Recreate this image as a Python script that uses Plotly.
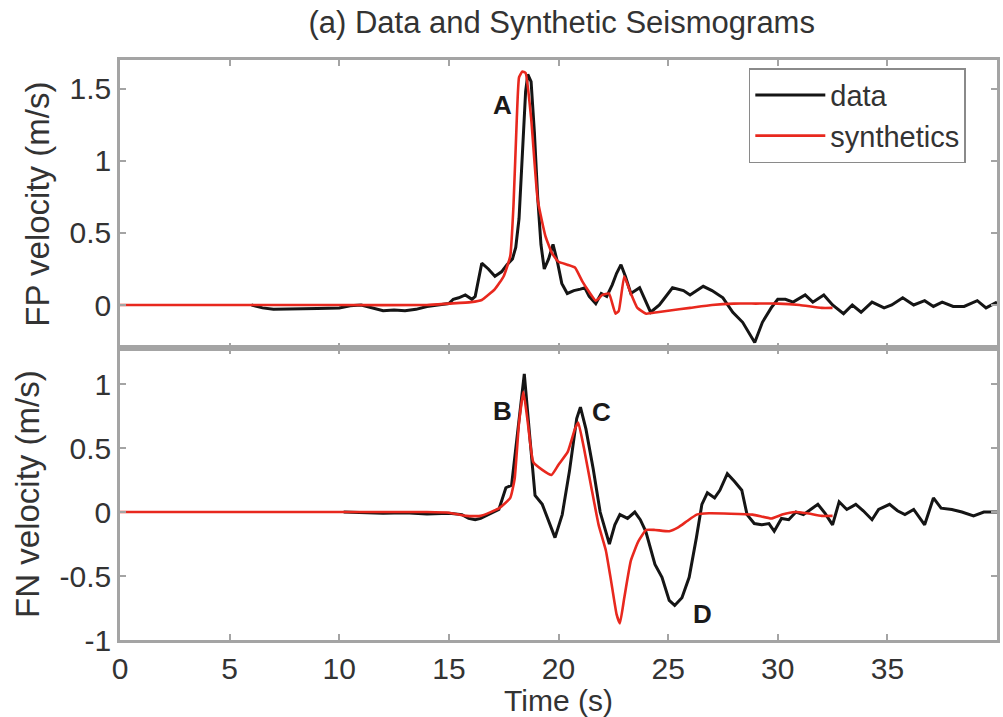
import plotly.graph_objects as go

# ---- fault-parallel (FP) component ----
fp_data_t = [6.0, 6.5, 7.0, 8.0, 9.0, 10.0, 10.5, 11.0, 11.5, 12.0, 12.5, 13.0, 13.5, 14.0, 14.5,
             15.0, 15.2, 15.45, 15.75, 16.05, 16.2, 16.5, 16.8, 17.1, 17.4, 17.65, 17.9, 18.05,
             18.2, 18.35, 18.5, 18.6, 18.75, 18.9, 19.05, 19.2, 19.35, 19.55, 19.75, 19.95,
             20.15, 20.4, 20.7, 21.0, 21.2, 21.4, 21.7, 21.95, 22.2, 22.45, 22.65, 22.85, 23.05,
             23.3, 23.7, 24.2, 24.6, 25.2, 25.7, 26.0, 26.6, 27.0, 27.5, 27.95, 28.4, 28.95,
             29.3, 29.7, 30.0, 30.35, 30.7, 31.25, 31.6, 32.1, 32.5, 33.0, 33.4, 33.8, 34.3,
             34.85, 35.2, 35.7, 36.2, 36.7, 37.1, 37.5, 38.0, 38.5, 39.1, 39.5, 40.0]
fp_data_v = [0.0, -0.02, -0.03, -0.03, -0.025, -0.02, -0.005, 0.0, -0.02, -0.04, -0.035, -0.04,
             -0.03, -0.01, 0.0, 0.01, 0.04, 0.05, 0.07, 0.04, 0.06, 0.29, 0.25, 0.2, 0.23, 0.28,
             0.32, 0.4, 0.6, 1.05, 1.48, 1.6, 1.55, 1.2, 0.75, 0.42, 0.25, 0.32, 0.42, 0.3, 0.15,
             0.08, 0.1, 0.11, 0.12, 0.06, 0.01, 0.08, 0.06, 0.14, 0.22, 0.28, 0.2, 0.08, 0.12,
             -0.05, 0.0, 0.12, 0.1, 0.07, 0.13, 0.1, 0.05, -0.05, -0.12, -0.26, -0.12, -0.02,
             0.04, 0.04, 0.02, 0.07, 0.02, 0.07, 0.0, -0.06, 0.0, -0.05, 0.02, -0.02, 0.0, 0.05,
             0.0, 0.03, -0.01, 0.02, -0.01, -0.01, 0.03, -0.02, 0.02]

fp_syn_t = [0.0, 10.0, 14.0, 15.0, 16.0, 16.5, 17.1, 17.5, 17.8, 17.95, 18.1, 18.2, 18.35, 18.5,
            18.75, 19.05, 19.4, 19.7, 20.0, 20.4, 20.75, 21.1, 21.4, 21.7, 22.0, 22.3, 22.6,
            22.75, 23.0, 23.25, 23.6, 24.0, 24.5, 25.0, 26.0, 27.0, 28.0, 29.0, 30.0, 31.0,
            32.0, 32.5]
fp_syn_v = [0.0, 0.0, 0.0, 0.01, 0.02, 0.035, 0.11, 0.2, 0.34, 0.7, 1.3, 1.58, 1.62, 1.61, 1.3,
            0.73, 0.48, 0.36, 0.3, 0.28, 0.26, 0.16, 0.09, 0.03, 0.07, 0.08, -0.06, -0.04, 0.2,
            0.1, -0.02, -0.06, -0.05, -0.04, -0.02, 0.0, 0.01, 0.01, 0.01, 0.0, -0.02, -0.02]

# ---- fault-normal (FN) component ----
fn_data_t = [10.2, 11.0, 12.0, 13.0, 14.0, 15.0, 15.6, 15.9, 16.2, 16.45, 16.8, 17.28, 17.6,
             17.86, 18.1, 18.44, 18.7, 18.93, 19.26, 19.6, 19.84, 20.17, 20.5, 20.83, 21.0,
             21.25, 21.58, 21.9, 22.16, 22.32, 22.57, 22.8, 23.15, 23.48, 23.73, 23.98, 24.4,
             24.72, 25.05, 25.3, 25.63, 25.96, 26.29, 26.54, 26.79, 27.12, 27.36, 27.7, 28.02,
             28.36, 28.6, 28.93, 29.26, 29.6, 29.84, 30.17, 30.5, 30.83, 31.17, 31.5, 31.83,
             32.16, 32.5, 32.8, 33.15, 33.56, 33.9, 34.3, 34.6, 35.1, 35.46, 35.8, 36.2, 36.7,
             37.1, 37.45, 37.94, 38.4, 38.93, 39.4, 40.0]
fn_data_v = [0.0, -0.005, -0.01, -0.005, -0.015, -0.01, -0.02, -0.05, -0.06, -0.05, -0.02, 0.02,
             0.19, 0.21, 0.57, 1.08, 0.57, 0.13, 0.06, -0.1, -0.2, -0.02, 0.32, 0.73, 0.82, 0.65,
             0.34, 0.0, -0.15, -0.25, -0.1, -0.02, -0.05, 0.0, -0.06, -0.15, -0.41, -0.51,
             -0.69, -0.73, -0.67, -0.51, -0.2, 0.06, 0.15, 0.11, 0.17, 0.3, 0.24, 0.17, -0.02,
             -0.09, -0.1, -0.09, -0.15, -0.05, -0.06, 0.0, -0.02, 0.02, 0.06, -0.01, -0.1, 0.08,
             0.02, 0.06, 0.01, -0.06, 0.02, 0.06, 0.01, -0.02, 0.02, -0.1, 0.11, 0.03, 0.02, 0.0,
             -0.03, 0.0, 0.0]

fn_syn_t = [0.0, 10.0, 14.0, 15.0, 15.8, 16.45, 17.3, 17.8, 18.0, 18.2, 18.4, 18.6, 18.85,
            19.26, 19.68, 20.0, 20.42, 20.75, 20.9, 21.16, 21.5, 21.83, 22.16, 22.4, 22.65,
            22.8, 23.0, 23.3, 23.64, 24.0, 24.4, 25.05, 25.46, 25.87, 26.3, 26.87, 28.85, 29.7,
            30.2, 30.8, 31.33, 32.0, 32.5]
fn_syn_v = [0.0, 0.0, 0.0, -0.005, -0.03, -0.03, 0.03, 0.11, 0.26, 0.7, 0.94, 0.7, 0.39, 0.33,
            0.29, 0.37, 0.47, 0.65, 0.7, 0.5, 0.19, -0.1, -0.3, -0.54, -0.8, -0.87, -0.67, -0.38,
            -0.23, -0.14, -0.14, -0.15, -0.12, -0.07, -0.02, -0.01, -0.02, -0.05, -0.02, 0.0,
            -0.01, -0.03, -0.03]

x_ticks = [0, 5, 10, 15, 20, 25, 30, 35]
fp_ticks = [0, 0.5, 1, 1.5]
fp_ticktext = ["0", "0.5", "1", "1.5"]
fn_ticks = [-1, -0.5, 0, 0.5, 1]
fn_ticktext = ["-1", "-0.5", "0", "0.5", "1"]

phase_labels = [("A", 17.45, 1.39, "x", "y"),
                ("B", 17.45, 0.79, "x2", "y2"),
                ("C", 21.95, 0.78, "x2", "y2"),
                ("D", 26.55, -0.80, "x2", "y2")]

FONT = "Liberation Sans, Arial, Helvetica, sans-serif"
BLACK = "#151515"
RED = "#e8281e"
FRAME = "#a4a4a4"
TEXT = "#333333"

fig = go.Figure()
fig.add_trace(go.Scatter(x=fp_data_t, y=fp_data_v, mode="lines", name="data",
                         line=dict(color=BLACK, width=3), xaxis="x", yaxis="y"))
fig.add_trace(go.Scatter(x=fp_syn_t, y=fp_syn_v, mode="lines", name="synthetics",
                         line=dict(color=RED, width=2.6, shape="spline", smoothing=0.4),
                         xaxis="x", yaxis="y"))
fig.add_trace(go.Scatter(x=fn_data_t, y=fn_data_v, mode="lines", name="data", showlegend=False,
                         line=dict(color=BLACK, width=3), xaxis="x2", yaxis="y2"))
fig.add_trace(go.Scatter(x=fn_syn_t, y=fn_syn_v, mode="lines", name="synthetics",
                         showlegend=False,
                         line=dict(color=RED, width=2.6, shape="spline", smoothing=0.4),
                         xaxis="x2", yaxis="y2"))

axis_common = dict(showline=True, linecolor=FRAME, linewidth=2.5, mirror="ticks",
                   ticks="inside", ticklen=6, tickwidth=1.5, tickcolor=FRAME,
                   showgrid=False, zeroline=False,
                   tickfont=dict(family=FONT, size=30, color=TEXT))

fig.update_layout(
    width=1003, height=717,
    margin=dict(l=120, r=3, t=60, b=74),
    paper_bgcolor="white", plot_bgcolor="white",
    font=dict(family=FONT, size=30, color=TEXT),
    title=dict(text="(a) Data and Synthetic Seismograms", x=0.560, xanchor="center",
               y=0.969, yanchor="middle", yref="container",
               font=dict(family=FONT, size=31, color=TEXT)),
    xaxis=dict(domain=[0, 1], anchor="y", range=[0, 40], tickvals=x_ticks,
               showticklabels=False, matches="x2", **axis_common),
    xaxis2=dict(domain=[0, 1], anchor="y2", range=[0, 40], tickvals=x_ticks,
                title=dict(text="Time (s)", standoff=8,
                           font=dict(family=FONT, size=30, color=TEXT)),
                **axis_common),
    yaxis=dict(domain=[0.503, 1], anchor="x", range=[-0.3, 1.7], tickvals=fp_ticks,
               ticktext=fp_ticktext,
               title=dict(text="FP velocity (m/s)", standoff=10,
                          font=dict(family=FONT, size=33, color=TEXT)),
               **axis_common),
    yaxis2=dict(domain=[0, 0.503], anchor="x2", range=[-1, 1.28], tickvals=fn_ticks,
                ticktext=fn_ticktext,
                title=dict(text="FN velocity (m/s)", standoff=10,
                           font=dict(family=FONT, size=33, color=TEXT)),
                **axis_common),
    legend=dict(x=0.717, y=0.986, xanchor="left", yanchor="top",
                bgcolor="white", bordercolor="#8a8a8a", borderwidth=1.5,
                font=dict(family=FONT, size=29, color=TEXT),
                itemwidth=70, tracegroupgap=0),
    showlegend=True,
)

for letter, t, v, xr, yr in phase_labels:
    fig.add_annotation(text=f"<b>{letter}</b>", x=t, y=v, xref=xr, yref=yr, showarrow=False,
                       font=dict(family=FONT, size=26, color="#1a1a1a"))

fig.write_html("out.html")
